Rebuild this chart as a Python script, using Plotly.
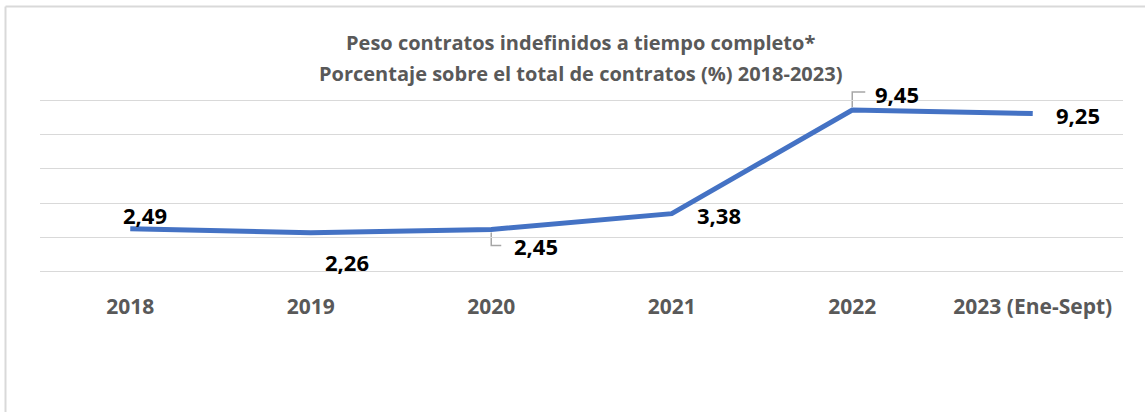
import plotly.graph_objects as go

categories = ["2018", "2019", "2020", "2021", "2022", "2023 (Ene-Sept)"]
values = [2.49, 2.26, 2.45, 3.38, 9.45, 9.25]
labels = ["2,49", "2,26", "2,45", "3,38", "9,45", "9,25"]

title_lines = ["Peso contratos indefinidos a tiempo completo*",
               "Porcentaje sobre el total de contratos (%) 2018-2023)"]

FONT = "Open Sans"
W, H = 1145, 412
ML, MR, MT, MB = 40, 22, 99, 139
pw = W - ML - MR
ph = H - MT - MB
YR = [-0.1, 10.1]
XR = [-0.5, 5.5]

xs = list(range(len(categories)))

fig = go.Figure()
fig.add_trace(go.Scatter(
    x=xs, y=values, mode="lines",
    line=dict(color="#4472C4", width=5),
    hoverinfo="skip", showlegend=False,
))

# label offsets (pixels) relative to each point
offsets = [(15, 14), (36, -29), (45, -16), (47, -1), (45, 16), (45, -1)]
for xi, v, t, (dx, dy) in zip(xs, values, labels, offsets):
    fig.add_annotation(x=xi, y=v, text=t, showarrow=False,
                       xshift=dx, yshift=dy,
                       font=dict(family=FONT, size=22, color="#000000", weight="bold"))

# leader lines (domain refs so they are not clipped to the plot area)
def leader(i, path):
    fig.add_shape(type="path", xref="x domain", yref="y domain",
                  xsizemode="pixel", ysizemode="pixel",
                  xanchor=(xs[i] - XR[0]) / (XR[1] - XR[0]),
                  yanchor=(values[i] - YR[0]) / (YR[1] - YR[0]),
                  path=path, line=dict(color="#a6a6a6", width=1.5), layer="below")

leader(2, "M0,-3 L0,-16 L10,-16")
leader(4, "M0,3 L0,18 L13,18")

# title lines
for i, line in enumerate(title_lines):
    fig.add_annotation(xref="paper", yref="paper", x=(580 - ML) / pw,
                       y=1 + (MT - (43 + 30 * i)) / ph, text=line, showarrow=False,
                       xanchor="center", yanchor="middle",
                       font=dict(family=FONT, size=20, color="#595959", weight="bold"))

# chart border (top and left)
top_y = 1 + (MT - 6.5) / ph
left_x = (5.5 - ML) / pw
fig.add_shape(type="line", xref="paper", yref="paper", x0=left_x, x1=1 + (MR + 5) / pw,
              y0=top_y, y1=top_y, line=dict(color="#d9d9d9", width=2))
fig.add_shape(type="line", xref="paper", yref="paper", x0=left_x, x1=left_x,
              y0=top_y, y1=-(MB + 5) / ph, line=dict(color="#d9d9d9", width=2))

fig.update_layout(
    width=W, height=H,
    margin=dict(l=ML, r=MR, t=MT, b=MB, autoexpand=False),
    paper_bgcolor="white", plot_bgcolor="white",
    xaxis=dict(range=XR, tickvals=xs, ticktext=categories,
               showgrid=False, zeroline=False, automargin=False,
               showline=False, ticks="", ticklabelstandoff=19,
               tickfont=dict(family=FONT, size=21, color="#595959", weight="bold")),
    yaxis=dict(range=YR, tickvals=[0, 2, 4, 6, 8, 10], showgrid=True,
               gridcolor="#d9d9d9", gridwidth=1.3,
               zeroline=False, showticklabels=False, showline=False, automargin=False),
)

fig.write_html("out.html", config={"displayModeBar": False},
               post_script="document.body.style.margin='0';document.body.style.overflow='hidden';")
